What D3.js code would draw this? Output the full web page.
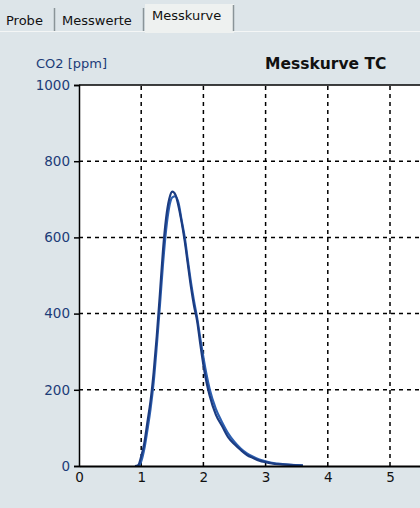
<!DOCTYPE html>
<html>
<head>
<meta charset="utf-8">
<script src="https://cdn.jsdelivr.net/npm/d3@7"></script>
<style>
  body { margin: 0; background: #dde5e9; }
  svg { display: block; font-family: "DejaVu Sans", Verdana, sans-serif; }
</style>
</head>
<body>
<svg id="chart" width="420" height="508"></svg>
<script>
// tabs across the top
var tabs = ["Probe", "Messwerte", "Messkurve"];
var activeTab = 2;

// x axis: time, y axis: CO2 [ppm]
var xTicks = [0, 1, 2, 3, 4, 5];
var xGrid = [1, 2, 3, 4, 5, 6];
var yTicks = [0, 200, 400, 600, 800, 1000];

// measured curve (time, CO2 ppm)
var timeA = [0.9, 0.95, 1.0, 1.05, 1.1, 1.15, 1.2, 1.25, 1.3, 1.35, 1.4, 1.45, 1.5, 1.55, 1.6, 1.65, 1.7, 1.75, 1.8, 1.85, 1.9, 1.95, 2.0, 2.05, 2.1, 2.2, 2.3, 2.4, 2.5, 2.6, 2.7, 2.8, 2.9, 3.0, 3.1, 3.2, 3.4, 3.6];
var valuesA = [0, 2, 25, 60, 115, 170, 245, 340, 450, 565, 650, 700, 720, 712, 682, 640, 590, 530, 470, 420, 380, 320, 265, 220, 185, 135, 105, 75, 57, 42, 29, 21, 14, 10, 7, 5, 3, 1];
// second (fitted) curve, slightly shifted
var valuesB = [0, 0, 12, 45, 95, 150, 220, 315, 420, 530, 620, 680, 705, 708, 690, 645, 600, 540, 482, 432, 388, 335, 285, 240, 202, 150, 115, 85, 63, 46, 33, 24, 17, 12, 8, 6, 3, 2];

var svg = d3.select("#chart");

// ---- tab bar ----
var tabX = [0, 56, 145];
var tabW = [55, 88, 89];
var tabG = svg.append("g");
tabG.append("line")
    .attr("x1", 0).attr("x2", 420).attr("y1", 31.5).attr("y2", 31.5)
    .attr("stroke", "#f4f6f6");

tabs.forEach(function(t, i) {
    var active = (i === activeTab);
    if (active) {
        tabG.append("rect")
            .attr("x", tabX[i]).attr("y", 4)
            .attr("width", tabW[i]).attr("height", 29)
            .attr("fill", "#eef1f0");
    }
    // separator on the right of each tab
    tabG.append("line")
        .attr("x1", tabX[i] + tabW[i] - 0.5).attr("x2", tabX[i] + tabW[i] - 0.5)
        .attr("y1", active ? 5 : 8).attr("y2", 31)
        .attr("stroke", "#8a9498").attr("stroke-width", 1.5);
    tabG.append("text")
        .attr("x", tabX[i] + (active ? 7 : 6))
        .attr("y", active ? 20 : 25)
        .attr("font-size", "13px")
        .attr("fill", "#111")
        .text(t);
});

// ---- plot ----
var margin = { left: 79, top: 85, bottom: 466 };
var x = d3.scaleLinear().domain([0, 6]).range([margin.left, margin.left + 62.2 * 6]);
var y = d3.scaleLinear().domain([0, 1000]).range([margin.bottom, margin.top]);

svg.append("rect")
    .attr("x", x(0)).attr("y", y(1000))
    .attr("width", x(6) - x(0)).attr("height", y(0) - y(1000))
    .attr("fill", "#ffffff");

// grid
svg.append("g")
    .selectAll("line")
    .data(xGrid)
    .enter().append("line")
        .attr("x1", function(d) { return x(d); })
        .attr("x2", function(d) { return x(d); })
        .attr("y1", y(0)).attr("y2", y(1000))
        .attr("stroke", "#000").attr("stroke-width", 1.5)
        .attr("stroke-dasharray", "4,4");

svg.append("g")
    .selectAll("line")
    .data(yTicks.slice(1, yTicks.length - 1))
    .enter().append("line")
        .attr("x1", x(0)).attr("x2", x(6))
        .attr("y1", function(d) { return y(d); })
        .attr("y2", function(d) { return y(d); })
        .attr("stroke", "#000").attr("stroke-width", 1.5)
        .attr("stroke-dasharray", "4,4");

// curves
var line = d3.line()
    .x(function(d) { return x(d[0]); })
    .y(function(d) { return y(d[1]); })
    .curve(d3.curveMonotoneX);

svg.append("path")
    .datum(d3.zip(timeA, valuesB))
    .attr("d", line)
    .attr("fill", "none")
    .attr("stroke", "#2d5fb0")
    .attr("stroke-width", 2.2);

svg.append("path")
    .datum(d3.zip(timeA, valuesA))
    .attr("d", line)
    .attr("fill", "none")
    .attr("stroke", "#1b3c82")
    .attr("stroke-width", 2.2);

// y axis
var yAxis = d3.axisLeft(y).tickValues(yTicks).tickFormat(d3.format("d"))
    .tickSize(5).tickPadding(4);
var yg = svg.append("g")
    .attr("transform", "translate(" + x(0) + ",0)")
    .call(yAxis);
yg.select(".domain").attr("stroke", "#000").attr("stroke-width", 1.5);
yg.selectAll(".tick line").attr("stroke", "#000").attr("stroke-width", 1.5);
yg.selectAll(".tick text")
    .attr("font-size", "13.5px")
    .attr("fill", "#1c3c78")
    .attr("font-family", "DejaVu Sans, Verdana, sans-serif");

// top border
svg.append("line")
    .attr("x1", x(0)).attr("x2", x(6))
    .attr("y1", y(1000)).attr("y2", y(1000))
    .attr("stroke", "#000").attr("stroke-width", 1.5);

// x axis
var xAxis = d3.axisBottom(x).tickValues(xTicks).tickFormat(d3.format("d"))
    .tickSize(0).tickPadding(6);
var xg = svg.append("g")
    .attr("transform", "translate(0," + y(0) + ")")
    .call(xAxis);
xg.select(".domain").attr("stroke", "#000").attr("stroke-width", 2);
xg.selectAll(".tick text")
    .attr("font-size", "13.5px")
    .attr("fill", "#111")
    .attr("font-family", "DejaVu Sans, Verdana, sans-serif");

// labels
svg.append("text")
    .attr("x", 36).attr("y", 68)
    .attr("font-size", "13px")
    .attr("fill", "#1c3c78")
    .text("CO2 [ppm]");

svg.append("text")
    .attr("x", 265).attr("y", 69)
    .attr("font-size", "15.5px")
    .attr("font-weight", "bold")
    .attr("fill", "#111")
    .text("Messkurve TC");
</script>
</body>
</html>
